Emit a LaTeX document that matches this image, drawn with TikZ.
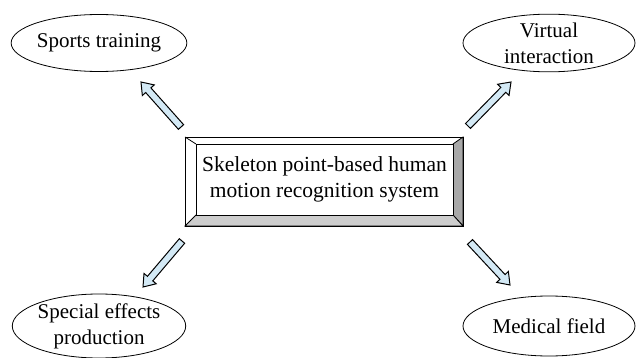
\documentclass[tikz,border=0pt]{standalone}
\usepackage{fontspec}
\setmainfont{Liberation Serif}
\usetikzlibrary{calc,shapes.geometric}
\definecolor{arrowblue}{HTML}{D3E9F5}
\definecolor{bevelright}{HTML}{A8A8A8}
\definecolor{bevelbottom}{HTML}{CDCDCD}
\tikzset{
  field/.style={ellipse, draw, line width=0.8pt, minimum width=172pt, minimum height=57pt,
    inner sep=0pt, align=center, font=\fontsize{21}{26}\selectfont},
  blockarr/.style={draw, fill=arrowblue, line width=1pt, line join=miter},
  bevel/.style={draw, line width=0.8pt},
}
% hollow block arrow from tail #1 to tip #2
\newcommand\blockarrow[2]{%
  \coordinate (#1-neck) at ($(#2)!11pt!(#1)$);
  \draw[blockarr] ($(#1)!3.5pt!90:(#2)$) -- ($(#1-neck)!3.5pt!90:(#2)$)
    -- ($(#1-neck)!8pt!90:(#2)$) -- (#2) -- ($(#1-neck)!8pt!-90:(#2)$)
    -- ($(#1-neck)!3.5pt!-90:(#2)$) -- ($(#1)!3.5pt!-90:(#2)$) -- cycle;
}
\begin{document}
\begin{tikzpicture}[x=1pt,y=-1pt]
  \useasboundingbox (0,0) rectangle (637,358);

  % central bevelled box
  \coordinate (o1) at (185,137);
  \coordinate (o2) at (463,226);
  \coordinate (i1) at (196,144);
  \coordinate (i2) at (453,215);
  \fill[white] (o1) rectangle (o2);
  \filldraw[bevel, fill=bevelright] (o2 |- o1) -- (o2) -- (i2) -- (i2 |- i1) -- cycle;
  \filldraw[bevel, fill=bevelbottom] (o1 |- o2) -- (o2) -- (i2) -- (i1 |- i2) -- cycle;
  \draw[bevel] (o1) -- (i1);
  \draw[bevel] (o1) rectangle (o2);
  \node[bevel, fill=white, minimum width=257pt, minimum height=71pt, inner sep=0pt,
    align=center, font=\fontsize{21.5}{26}\selectfont] (sys) at (324.5,179.5)
    {Skeleton point-based human\\motion recognition system};

  % application fields
  \node[field] (sport) at (99,43) {Sports training};
  \node[field] (virt) at (549,43) {Virtual\\interaction};
  \node[field, minimum height=60pt] (fx) at (99,326) {Special effects\\production};
  \node[field, minimum height=60pt] (med) at (549,326) {Medical field};

  % arrow ends
  \coordinate (t1) at (181,127); \coordinate (h1) at (141,82);
  \coordinate (t2) at (468,126); \coordinate (h2) at (511,82);
  \coordinate (t3) at (182,241); \coordinate (h3) at (143,287);
  \coordinate (t4) at (470,242); \coordinate (h4) at (510,285);
  \blockarrow{t1}{h1}
  \blockarrow{t2}{h2}
  \blockarrow{t3}{h3}
  \blockarrow{t4}{h4}
\end{tikzpicture}
\end{document}
